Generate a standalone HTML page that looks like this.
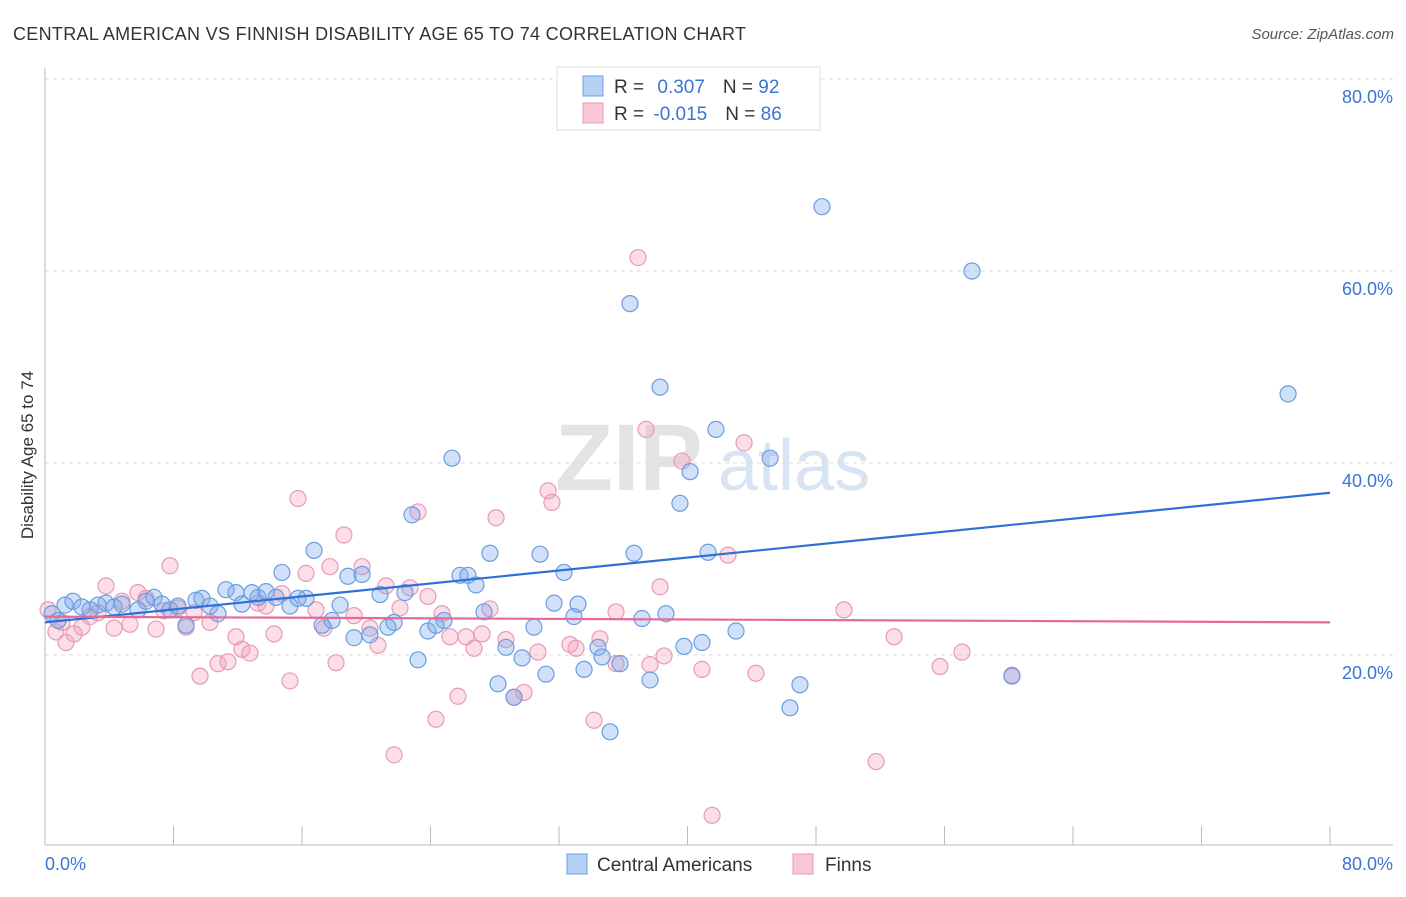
<!DOCTYPE html>
<html><head><meta charset="utf-8"><style>
body{margin:0;background:#fff;font-family:"Liberation Sans",sans-serif}
svg text{font-family:"Liberation Sans",sans-serif}
</style></head><body>
<svg id="c" width="1406" height="892" viewBox="0 0 1406 892">
<text x="13" y="40" font-size="18" fill="#333" textLength="733">CENTRAL AMERICAN VS FINNISH DISABILITY AGE 65 TO 74 CORRELATION CHART</text>
<text x="1394" y="39" font-size="15" fill="#555" font-style="italic" text-anchor="end">Source: ZipAtlas.com</text>
<text transform="translate(33,455) rotate(-90)" font-size="17" fill="#333" text-anchor="middle">Disability Age 65 to 74</text>
<g><text x="555" y="490" font-size="95" fill="#e3e3e3" font-family="Liberation Serif" font-weight="bold">ZIP</text><text x="718" y="490" font-size="72" fill="#d8e4f3">atlas</text></g>
<g id="grid"></g><g id="axes"></g><g id="pts"></g><g id="trend"></g>
<g>
<rect x="557" y="67" width="263" height="63" fill="#fff" stroke="#ddd"/>
<rect x="583" y="76" width="20" height="20" fill="#b7d1f5" stroke="#6a9ee0"/>
<rect x="583" y="103" width="20" height="20" fill="#f9c7d7" stroke="#e89ab5"/>
<text x="614" y="93" font-size="19" fill="#333">R = <tspan fill="#3a74d4" dx="8">0.307</tspan><tspan dx="18" fill="#333">N = </tspan><tspan fill="#3a74d4">92</tspan></text>
<text x="614" y="120" font-size="19" fill="#333">R = <tspan fill="#3a74d4" dx="4">-0.015</tspan><tspan dx="18" fill="#333">N = </tspan><tspan fill="#3a74d4">86</tspan></text>
</g>
<g>
<rect x="567" y="854" width="20" height="20" fill="#b7d1f5" stroke="#6a9ee0"/>
<text x="597" y="871" font-size="19" fill="#333">Central Americans</text>
<rect x="793" y="854" width="20" height="20" fill="#f9c7d7" stroke="#e89ab5"/>
<text x="825" y="871" font-size="19" fill="#333">Finns</text>
</g>
</svg>
<script>
const blueX=[0.44,0.81,1.25,1.74,2.30,2.80,3.30,3.80,4.30,4.79,5.79,6.29,6.79,7.28,7.78,8.28,8.78,9.40,9.77,10.27,10.77,11.27,11.89,12.26,12.89,13.26,13.76,14.38,14.75,15.25,15.75,16.25,16.75,17.25,17.87,18.37,18.86,19.24,19.74,20.23,20.86,21.35,21.73,22.41,22.85,23.22,23.84,24.34,24.84,25.34,25.84,26.33,26.83,27.33,27.70,28.20,28.70,29.20,29.70,30.44,30.82,31.19,31.69,32.31,32.93,33.18,33.56,34.43,34.68,35.18,35.80,36.42,36.67,37.17,37.67,38.29,38.66,39.53,39.78,40.16,40.90,41.28,41.77,43.02,45.14,46.38,47.00,48.37,57.71,60.20,77.39];
const blueY=[24.3,23.6,25.2,25.6,25.0,24.7,25.2,25.4,25.0,25.3,24.7,25.6,26.0,25.3,24.7,25.1,23.1,25.7,25.9,25.1,24.3,26.8,26.5,25.3,26.5,26.0,26.6,26.0,28.6,25.1,25.9,25.9,30.9,23.1,23.6,25.2,28.2,21.8,28.4,22.1,26.3,22.9,23.4,26.5,34.6,19.5,22.5,23.1,23.6,40.5,28.3,28.3,27.3,24.5,30.6,17.0,20.8,15.6,19.7,22.9,30.5,18.0,25.4,28.6,24.0,25.3,18.5,20.8,19.8,12.0,19.1,56.6,30.6,23.8,17.4,47.9,24.3,35.8,20.9,39.1,21.3,30.7,43.5,22.5,40.5,14.5,16.9,66.7,60.0,17.8,47.2];
const pinkX=[0.19,0.68,1.06,1.31,1.81,2.30,2.80,3.30,3.80,4.30,4.79,5.29,5.79,6.29,6.91,7.41,7.78,8.28,8.78,9.28,9.65,10.27,10.77,11.39,11.89,12.26,12.76,13.26,13.76,14.26,14.75,15.25,15.75,16.25,16.87,17.37,17.74,18.12,18.61,19.24,19.74,20.23,20.73,21.23,21.73,22.10,22.72,23.22,23.84,24.34,24.72,25.21,25.71,26.21,26.71,27.21,27.70,28.08,28.70,29.20,29.82,30.69,31.32,31.56,32.68,33.06,34.18,34.55,35.55,35.55,36.92,37.42,37.67,38.29,38.54,39.66,40.90,42.52,43.52,44.26,49.74,51.74,52.86,55.72,57.09,60.20,41.53];
const pinkY=[24.7,22.4,23.4,21.3,22.2,22.9,24.0,24.4,27.2,22.8,25.6,23.2,26.5,25.9,22.7,24.6,29.3,24.9,22.9,24.4,17.8,23.4,19.1,19.3,21.9,20.6,20.2,25.4,25.1,22.2,26.4,17.3,36.3,28.5,24.7,22.8,29.2,19.2,32.5,24.1,29.2,22.8,21.0,27.2,9.6,24.9,27.0,34.9,26.1,13.3,24.3,21.9,15.7,21.9,20.7,22.2,24.8,34.3,21.6,15.6,16.1,20.3,37.1,35.9,21.1,20.7,13.2,21.7,24.5,19.1,61.4,43.5,19.0,27.1,19.9,40.2,18.5,30.4,42.1,18.1,24.7,8.9,21.9,18.8,20.3,17.9,3.3];
const trendX=[0,80];
const blueTrend=[23.4,36.9];
const pinkTrend=[24.0,23.4];
const yTicks=[20,40,60,80];
const yTickLabels=["20.0%","40.0%","60.0%","80.0%"];
const ns="http://www.w3.org/2000/svg";
const sx=v=>45+v*1285/80, sy=v=>847-v*9.6;
function mk(p,t,a){const e=document.createElementNS(ns,t);for(const k in a)e.setAttribute(k,a[k]);document.getElementById(p).appendChild(e);return e;}
yTicks.forEach((t,i)=>{
 const l=mk('grid','line',{x1:45,x2:1393,y1:sy(t),y2:sy(t),stroke:'#ddd','stroke-dasharray':'4,4'});
 
 
 const tx=mk('grid','text',{x:1393,y:sy(t)+24,'font-size':18,fill:'#3a74d4','text-anchor':'end'});
 tx.textContent=yTickLabels[i];
 
 
});
let a=mk('axes','line',{x1:45,x2:45,y1:68,y2:845,stroke:'#bbb'});


a=mk('axes','line',{x1:45,x2:1393,y1:845,y2:845,stroke:'#bbb'});


for(let i=0;i<=10;i++){
 const t=mk('axes','line',{x1:sx(i*8),x2:sx(i*8),y1:826,y2:845,stroke:'#bbb'});
 
 
}
let xl=mk('axes','text',{x:45,y:870,'font-size':18,fill:'#3a74d4'});xl.textContent='0.0%';


xl=mk('axes','text',{x:1393,y:870,'font-size':18,fill:'#3a74d4','text-anchor':'end'});xl.textContent='80.0%';


function pts(X,Y,f,s,n){X.forEach((x,i)=>{const c=mk('pts','circle',{cx:sx(x),cy:sy(Y[i]),r:8,fill:f,stroke:s,'stroke-width':1.2});
 
 });}
pts(pinkX,pinkY,'rgba(244,160,190,0.35)','#e89ab5','finns-point');
pts(blueX,blueY,'rgba(120,165,235,0.35)','#6a9ee0','central-american-point');
let tl=mk('trend','line',{x1:sx(trendX[0]),x2:sx(trendX[1]),y1:sy(blueTrend[0]),y2:sy(blueTrend[1]),stroke:'#2f6fd6','stroke-width':2.2});


tl=mk('trend','line',{x1:sx(trendX[0]),x2:sx(trendX[1]),y1:sy(pinkTrend[0]),y2:sy(pinkTrend[1]),stroke:'#e56a97','stroke-width':2.2});


</script>
</body></html>
